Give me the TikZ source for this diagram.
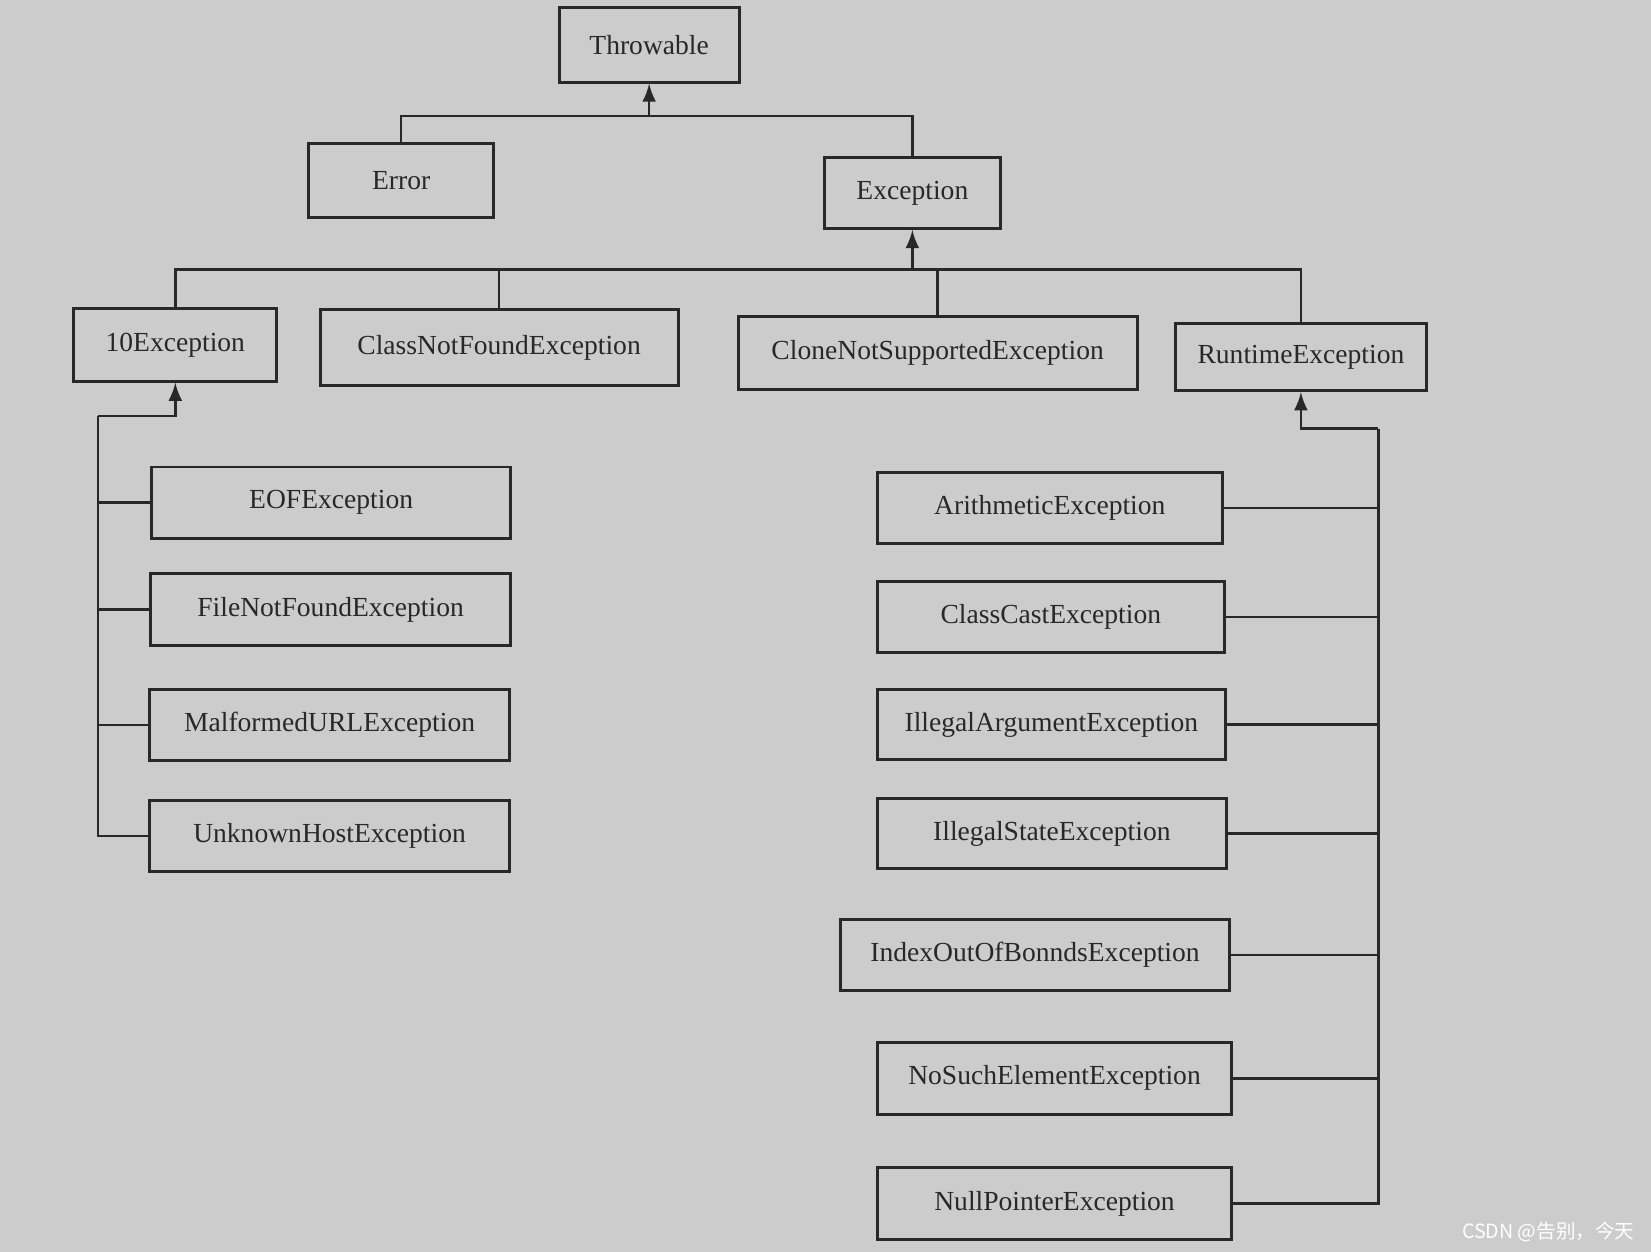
\documentclass[tikz,border=0pt]{standalone}
\usepackage{fontspec}
\setmainfont{Liberation Serif}
\newfontfamily\cjkfont{Noto Sans CJK SC}
\usetikzlibrary{arrows}
\definecolor{paper}{RGB}{204,204,204}
\definecolor{ink}{RGB}{40,40,40}
\tikzset{
	cls/.style={draw=ink, line width=0.8pt, text=ink, minimum height=0.68cm, inner sep=0pt, font=\fontsize{7.45}{9}\selectfont},
	link/.style={draw=ink, line width=0.7pt},
}

\begin{document}
\begin{tikzpicture}
	\fill[paper] (0,0) rectangle (15.68,-11.89);
	% top level
	\node[cls, minimum width=1.71cm, minimum height=0.71cm] (throwable) at (6.165,-0.425) {Throwable};
	\node[cls, minimum width=1.76cm, minimum height=0.71cm] (error) at (3.81,-1.715) {Error};
	\node[cls, minimum width=1.67cm, minimum height=0.67cm] (exception) at (8.665,-1.835) {Exception};
	% second level
	\node[cls, minimum width=1.93cm, minimum height=0.69cm] (ioexc) at (1.665,-3.275) {10Exception};
	\node[cls, minimum width=3.40cm, minimum height=0.72cm] (cnfexc) at (4.74,-3.30) {ClassNotFoundException};
	\node[cls, minimum width=3.79cm, minimum height=0.69cm] (cloneexc) at (8.905,-3.355) {CloneNotSupportedException};
	\node[cls, minimum width=2.39cm, minimum height=0.64cm] (runtime) at (12.355,-3.39) {RuntimeException};
	% io subclasses
	\node[cls, minimum width=3.41cm] (eof) at (3.145,-4.775) {EOFException};
	\node[cls, minimum width=3.42cm] (fnf) at (3.14,-5.79) {FileNotFoundException};
	\node[cls, minimum width=3.42cm] (malurl) at (3.13,-6.885) {MalformedURLException};
	\node[cls, minimum width=3.42cm] (unkhost) at (3.13,-7.94) {UnknownHostException};
	% runtime subclasses
	\node[cls, minimum width=3.28cm, minimum height=0.67cm] (arith) at (9.97,-4.825) {ArithmeticException};
	\node[cls, minimum width=3.30cm] (ccast) at (9.98,-5.86) {ClassCastException};
	\node[cls, minimum width=3.31cm, minimum height=0.66cm] (illarg) at (9.985,-6.88) {IllegalArgumentException};
	\node[cls, minimum width=3.32cm, minimum height=0.67cm] (illstate) at (9.99,-7.915) {IllegalStateException};
	\node[cls, minimum width=3.70cm] (idxout) at (9.83,-9.07) {IndexOutOfBonndsException};
	\node[cls, minimum width=3.37cm] (nosuch) at (10.015,-10.24) {NoSuchElementException};
	\node[cls, minimum width=3.37cm] (nullptr) at (10.015,-11.43) {NullPointerException};
	% junctions
	\coordinate (bar1) at (6.165,-1.10);
	\coordinate (bar2) at (8.665,-2.56);
	\coordinate (iotrunk) at (0.93,-3.95);
	\coordinate (rttrunk) at (13.09,-4.07);
	% edges
	\draw[link,->,>=latex] (bar1)--(throwable);
	\draw[link] (error.north) |- (bar1) -| (exception.north);
	\draw[link,->,>=latex] (bar2)--(exception);
	\draw[link] (ioexc.north) |- (bar2) -| (runtime.north);
	\draw[link] (cnfexc.north)--(cnfexc.north |- bar2);
	\draw[link] (cloneexc.north)--(cloneexc.north |- bar2);
	\draw[link,->,>=latex] (iotrunk) -| (ioexc.south);
	\draw[link] (iotrunk) |- (unkhost.west);
	\draw[link] (eof.west)--(eof.west -| iotrunk);
	\draw[link] (fnf.west)--(fnf.west -| iotrunk);
	\draw[link] (malurl.west)--(malurl.west -| iotrunk);
	\draw[link,->,>=latex] (rttrunk) -| (runtime.south);
	\draw[link] (rttrunk) |- (nullptr.east);
	\draw[link] (arith.east)--(arith.east -| rttrunk);
	\draw[link] (ccast.east)--(ccast.east -| rttrunk);
	\draw[link] (illarg.east)--(illarg.east -| rttrunk);
	\draw[link] (illstate.east)--(illstate.east -| rttrunk);
	\draw[link] (idxout.east)--(idxout.east -| rttrunk);
	\draw[link] (nosuch.east)--(nosuch.east -| rttrunk);
	% watermark
	\node[text=white, inner sep=0pt, font=\cjkfont\fontsize{5.3}{6}\selectfont, anchor=east] (mark) at (15.53,-11.70) {CSDN @告别，今天};
\end{tikzpicture}
\end{document}
